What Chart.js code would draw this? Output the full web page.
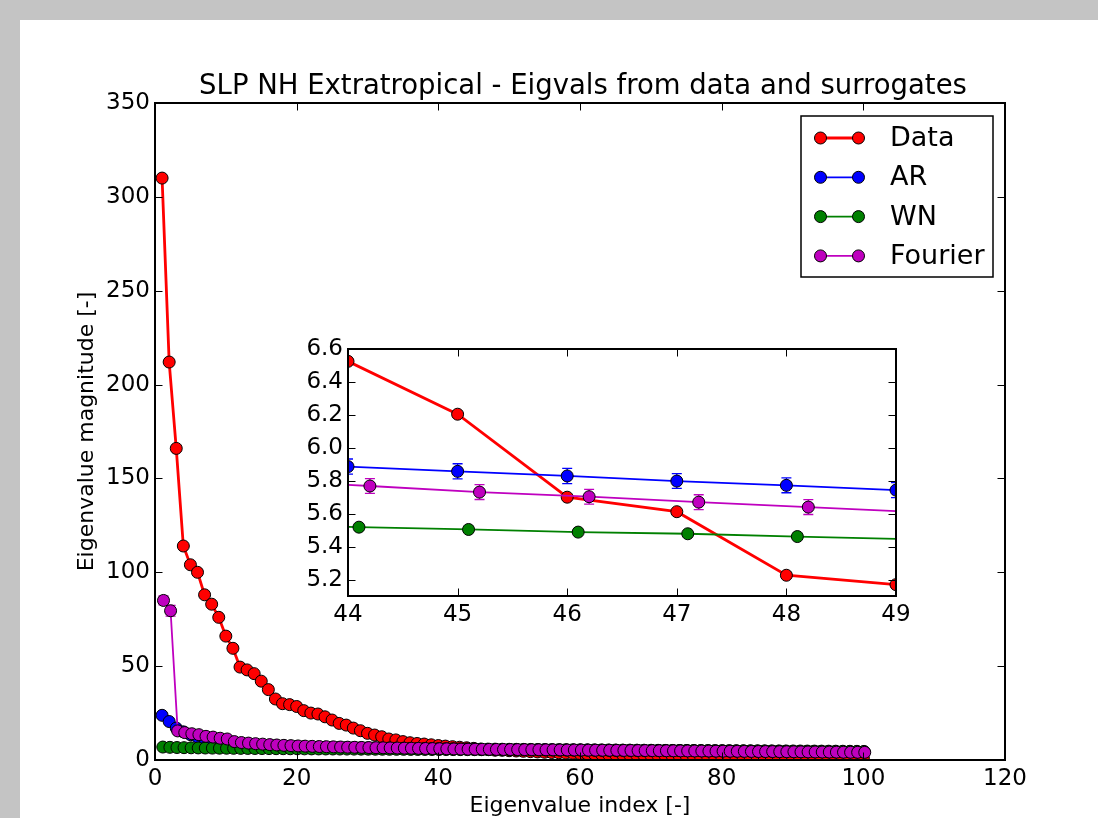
<!DOCTYPE html>
<html>
<head>
<meta charset="utf-8">
<script src="https://cdn.jsdelivr.net/npm/chart.js@4.4.0/dist/chart.umd.min.js"></script>
<style>
  html, body { margin: 0; padding: 0; background: #c4c4c4; }
  body { width: 1098px; height: 818px; position: relative; overflow: hidden; }
  #panel { position: absolute; left: 20px; top: 20px; width: 1078px; height: 798px; background: #fff; }
  #mainChart { position: absolute; left: 0; top: 0; width: 1098px; height: 818px; }
  #insetChart { position: absolute; left: 290px; top: 330px; width: 640px; height: 300px; }
</style>
</head>
<body>
<div id="panel"></div>
<canvas id="mainChart" width="1098" height="818"></canvas>
<canvas id="insetChart" width="640" height="300"></canvas>
<script>
const FONT = "'DejaVu Sans', sans-serif";

// Eigenvalue index (x)
const eigIndex = [1, 2, 3, 4, 5, 6, 7, 8, 9, 10, 11, 12, 13, 14, 15, 16, 17, 18, 19, 20,
  21, 22, 23, 24, 25, 26, 27, 28, 29, 30, 31, 32, 33, 34, 35, 36, 37, 38, 39, 40,
  41, 42, 43, 44, 45, 46, 47, 48, 49, 50, 51, 52, 53, 54, 55, 56, 57, 58, 59, 60,
  61, 62, 63, 64, 65, 66, 67, 68, 69, 70, 71, 72, 73, 74, 75, 76, 77, 78, 79, 80,
  81, 82, 83, 84, 85, 86, 87, 88, 89, 90, 91, 92, 93, 94, 95, 96, 97, 98, 99, 100];

// Eigenvalues
const dataVals = [310, 212, 166, 114, 104, 100, 88, 83, 76, 66,
  59.5, 49.5, 48, 46, 42, 37.5, 32.5, 30, 29.5, 28.5,
  26.3, 25, 24.5, 23, 21.3, 19.5, 18.6, 17, 15.6, 14.2,
  13.3, 12.4, 11.2, 10.7, 9.8, 9.2, 8.8, 8.5, 8.1, 7.7,
  7.4, 7.1, 6.8, 6.525, 6.204, 5.70, 5.612, 5.226, 5.169, 4.95,
  4.8, 4.62, 4.45, 4.3, 4.12, 3.98, 3.85, 3.7, 3.58, 3.45,
  3.35, 3.24, 3.13, 3.05, 2.95, 2.86, 2.78, 2.7, 2.62, 2.55,
  2.48, 2.41, 2.35, 2.28, 2.22, 2.16, 2.1, 2.05, 2.0, 1.95,
  1.9, 1.85, 1.8, 1.76, 1.71, 1.67, 1.63, 1.58, 1.54, 1.5,
  1.46, 1.42, 1.38, 1.34, 1.3, 1.26, 1.22, 1.17, 1.12, 1.05];

const arVals = [23.8, 20.5, 17, 15, 13.5, 12.3, 11.3, 10.6, 10, 9.5,
  9.1, 8.7, 8.4, 8.15, 7.95, 7.75, 7.6, 7.45, 7.32, 7.2,
  7.1, 7.0, 6.92, 6.84, 6.77, 6.7, 6.64, 6.58, 6.52, 6.47,
  6.42, 6.37, 6.32, 6.28, 6.23, 6.19, 6.15, 6.11, 6.07, 6.03,
  5.99, 5.95, 5.915, 5.886, 5.857, 5.829, 5.798, 5.772, 5.743, 5.71,
  5.68, 5.65, 5.62, 5.6, 5.57, 5.54, 5.51, 5.48, 5.46, 5.43,
  5.4, 5.37, 5.35, 5.32, 5.29, 5.26, 5.24, 5.21, 5.18, 5.15,
  5.13, 5.1, 5.07, 5.04, 5.01, 4.99, 4.96, 4.93, 4.9, 4.88,
  4.85, 4.82, 4.79, 4.76, 4.74, 4.71, 4.68, 4.65, 4.62, 4.59,
  4.57, 4.54, 4.51, 4.48, 4.45, 4.42, 4.39, 4.36, 4.32, 4.28];

const wnVals = [6.9, 6.75, 6.65, 6.57, 6.5, 6.44, 6.39, 6.34, 6.3, 6.26,
  6.22, 6.19, 6.16, 6.13, 6.1, 6.07, 6.04, 6.02, 5.99, 5.97,
  5.94, 5.92, 5.9, 5.88, 5.86, 5.84, 5.82, 5.8, 5.78, 5.76,
  5.74, 5.72, 5.7, 5.68, 5.67, 5.65, 5.63, 5.62, 5.6, 5.58,
  5.57, 5.55, 5.535, 5.518, 5.504, 5.488, 5.478, 5.461, 5.445, 5.43,
  5.41, 5.4, 5.38, 5.37, 5.35, 5.34, 5.32, 5.31, 5.29, 5.28,
  5.26, 5.25, 5.23, 5.22, 5.2, 5.19, 5.17, 5.16, 5.14, 5.13,
  5.11, 5.1, 5.08, 5.06, 5.05, 5.03, 5.02, 5.0, 4.98, 4.97,
  4.95, 4.93, 4.92, 4.9, 4.88, 4.87, 4.85, 4.83, 4.81, 4.8,
  4.78, 4.76, 4.74, 4.72, 4.7, 4.68, 4.66, 4.64, 4.61, 4.58];

const fourierVals = [85, 79.5, 15.5, 14.6, 14, 13.5, 12.6, 12.2, 11.6, 11.2,
  9.8, 9.3, 9.0, 8.7, 8.45, 8.2, 8.0, 7.8, 7.65, 7.5,
  7.38, 7.27, 7.17, 7.08, 7.0, 6.92, 6.84, 6.77, 6.7, 6.63,
  6.56, 6.5, 6.44, 6.38, 6.32, 6.26, 6.2, 6.14, 6.08, 6.02,
  5.96, 5.9, 5.80, 5.768, 5.731, 5.703, 5.670, 5.640, 5.61, 5.58,
  5.55, 5.52, 5.49, 5.46, 5.43, 5.4, 5.37, 5.34, 5.31, 5.28,
  5.25, 5.22, 5.19, 5.16, 5.13, 5.1, 5.07, 5.04, 5.01, 4.98,
  4.95, 4.92, 4.89, 4.86, 4.83, 4.8, 4.77, 4.74, 4.71, 4.68,
  4.65, 4.62, 4.59, 4.56, 4.53, 4.5, 4.47, 4.44, 4.41, 4.38,
  4.35, 4.32, 4.29, 4.26, 4.23, 4.2, 4.17, 4.14, 4.11, 4.08];

// error bars (only where they are visible)
const arErrIdx = [1, 2, 44, 45, 46, 47, 48, 49];
const arErr = [1.6, 0.8, 0.046, 0.046, 0.046, 0.045, 0.045, 0.045];
const fourierErrIdx = [1, 2, 44, 45, 46, 47, 48, 49];
const fourierErr = [2.4, 2.9, 0.045, 0.045, 0.045, 0.045, 0.045, 0.045];

const seriesNames = ['Data', 'AR', 'WN', 'Fourier'];
const seriesColors = ['#ff0000', '#0000ff', '#008000', '#bf00bf'];
const xShift = [0, 0, 0.1, 0.2];

const mainXTicks = [0, 20, 40, 60, 80, 100, 120];
const mainYTicks = [0, 50, 100, 150, 200, 250, 300, 350];
const insetXTicks = [44, 45, 46, 47, 48, 49];
const insetYTicks = [5.2, 5.4, 5.6, 5.8, 6.0, 6.2, 6.4, 6.6];

const MARKER_R = 6;

Chart.defaults.font.family = FONT;
Chart.defaults.font.size = 23;
Chart.defaults.color = '#000';

function makeDatasets() {
  const vals = [dataVals, arVals, wnVals, fourierVals];
  return vals.map((v, s) => ({
    label: seriesNames[s],
    data: eigIndex.map((n, i) => ({ x: n + xShift[s], y: v[i] })),
    borderColor: seriesColors[s],
    backgroundColor: seriesColors[s],
    borderWidth: s === 0 ? 2.8 : 1.8,
    pointRadius: MARKER_R,
    pointBorderWidth: 1,
    pointBorderColor: '#000',
    pointBackgroundColor: seriesColors[s],
    tension: 0,
    order: 4 - s,
    clip: 0
  }));
}

// white axes background, inward ticks on all sides, frame
const axesFrame = {
  id: 'axesFrame',
  beforeDatasetsDraw(chart) {
    const { ctx, chartArea: a } = chart;
    ctx.save();
    ctx.fillStyle = '#fff';
    ctx.fillRect(a.left, a.top, a.right - a.left, a.bottom - a.top);
    ctx.restore();
  },
  afterDatasetsDraw(chart) {
    const { ctx, chartArea: a, scales: { x, y } } = chart;
    ctx.save();
    ctx.strokeStyle = '#000';
    ctx.lineWidth = 1;
    ctx.beginPath();
    x.ticks.forEach(t => {
      const px = Math.round(x.getPixelForValue(t.value)) + 0.5;
      ctx.moveTo(px, a.bottom); ctx.lineTo(px, a.bottom - 7.5);
      ctx.moveTo(px, a.top); ctx.lineTo(px, a.top + 7.5);
    });
    y.ticks.forEach(t => {
      const py = Math.round(y.getPixelForValue(t.value)) + 0.5;
      ctx.moveTo(a.left, py); ctx.lineTo(a.left + 7.5, py);
      ctx.moveTo(a.right, py); ctx.lineTo(a.right - 7.5, py);
    });
    ctx.stroke();
    ctx.lineWidth = 2;
    ctx.strokeRect(a.left, a.top, a.right - a.left, a.bottom - a.top);
    ctx.restore();
  }
};

const errorBars = {
  id: 'errorBars',
  beforeDatasetsDraw(chart, args, opts) {
    const { ctx, chartArea: a, scales: { x, y } } = chart;
    ctx.save();
    ctx.beginPath();
    ctx.rect(a.left, a.top, a.right - a.left, a.bottom - a.top);
    ctx.clip();
    (opts.bars || []).forEach(b => {
      const ds = chart.data.datasets[b.dataset];
      ctx.strokeStyle = ds.borderColor;
      ctx.lineWidth = 1.3;
      b.idx.forEach((n, k) => {
        const p = ds.data[n - 1];
        const px = x.getPixelForValue(p.x);
        const y1 = y.getPixelForValue(p.y - b.err[k]);
        const y2 = y.getPixelForValue(p.y + b.err[k]);
        ctx.beginPath();
        ctx.moveTo(px, y1); ctx.lineTo(px, y2);
        ctx.moveTo(px - 5, y1); ctx.lineTo(px + 5, y1);
        ctx.moveTo(px - 5, y2); ctx.lineTo(px + 5, y2);
        ctx.stroke();
      });
    });
    ctx.restore();
  }
};

const plotTitle = {
  id: 'plotTitle',
  afterDraw(chart, args, opts) {
    if (!opts.text) return;
    const { ctx, chartArea: a } = chart;
    ctx.save();
    ctx.font = `27.5px ${FONT}`;
    ctx.fillStyle = '#000';
    ctx.textAlign = 'center';
    ctx.textBaseline = 'alphabetic';
    ctx.fillText(opts.text, (a.left + a.right) / 2 + 3, a.top - 9);
    ctx.restore();
  }
};

// matplotlib-like legend: line with two markers per row
const lineLegend = {
  id: 'lineLegend',
  afterDraw(chart, args, opts) {
    if (!opts.display) return;
    const { ctx, chartArea: a } = chart;
    const w = 192, h = 161;
    const left = a.right - 12 - w, top = a.top + 13;
    ctx.save();
    ctx.fillStyle = '#fff';
    ctx.fillRect(left, top, w, h);
    ctx.lineWidth = 1.5;
    ctx.strokeStyle = '#000';
    ctx.strokeRect(left, top, w, h);
    ctx.font = `27px ${FONT}`;
    ctx.textBaseline = 'middle';
    ctx.textAlign = 'left';
    chart.data.datasets.forEach((ds, i) => {
      const cy = top + 22 + i * 39.3;
      const x1 = left + 19.5, x2 = left + 57.5;
      ctx.strokeStyle = ds.borderColor;
      ctx.lineWidth = ds.borderWidth;
      ctx.beginPath(); ctx.moveTo(x1, cy); ctx.lineTo(x2, cy); ctx.stroke();
      [x1, x2].forEach(mx => {
        ctx.beginPath();
        ctx.arc(mx, cy, MARKER_R, 0, Math.PI * 2);
        ctx.fillStyle = ds.pointBackgroundColor;
        ctx.fill();
        ctx.lineWidth = 1;
        ctx.strokeStyle = '#000';
        ctx.stroke();
      });
      ctx.fillStyle = '#000';
      ctx.fillText(ds.label, left + 89, cy + 1);
    });
    ctx.restore();
  }
};

function fixedTicks(list) {
  return scale => { scale.ticks = list.map(v => ({ value: v })); };
}

// main chart
new Chart(document.getElementById('mainChart'), {
  type: 'line',
  data: { datasets: makeDatasets() },
  plugins: [axesFrame, errorBars, plotTitle, lineLegend],
  options: {
    responsive: false,
    animation: false,
    events: [],
    layout: { padding: { left: 0, top: 103, right: 93, bottom: 0 } },
    plugins: {
      legend: { display: false },
      tooltip: { enabled: false },
      plotTitle: { text: 'SLP NH Extratropical - Eigvals from data and surrogates' },
      lineLegend: { display: true },
      errorBars: { bars: [
        { dataset: 1, idx: arErrIdx, err: arErr },
        { dataset: 3, idx: fourierErrIdx, err: fourierErr }
      ] }
    },
    scales: {
      x: {
        type: 'linear', min: 0, max: 120,
        afterBuildTicks: fixedTicks(mainXTicks),
        afterFit: s => { s.height = 58; },
        grid: { display: false, drawTicks: false },
        border: { display: false },
        ticks: { padding: 5, autoSkip: false, maxRotation: 0 },
        title: { display: true, text: 'Eigenvalue index [-]', font: { size: 22 }, padding: { top: 0, bottom: -1 } }
      },
      y: {
        type: 'linear', min: 0, max: 350,
        afterBuildTicks: fixedTicks(mainYTicks),
        afterFit: s => { s.width = 155; },
        grid: { display: false, drawTicks: false },
        border: { display: false },
        ticks: { padding: 5, autoSkip: false },
        title: { display: true, text: 'Eigenvalue magnitude [-]', font: { size: 22 }, padding: { top: 74, bottom: 0 } }
      }
    }
  }
});

// inset zoom on indices 44-49
new Chart(document.getElementById('insetChart'), {
  type: 'line',
  data: { datasets: makeDatasets() },
  plugins: [axesFrame, errorBars],
  options: {
    responsive: false,
    animation: false,
    events: [],
    layout: { padding: { left: 0, top: 19, right: 34, bottom: 0 } },
    plugins: {
      legend: { display: false },
      tooltip: { enabled: false },
      errorBars: { bars: [
        { dataset: 1, idx: arErrIdx, err: arErr },
        { dataset: 3, idx: fourierErrIdx, err: fourierErr }
      ] }
    },
    scales: {
      x: {
        type: 'linear', min: 44, max: 49,
        afterBuildTicks: fixedTicks(insetXTicks),
        afterFit: s => { s.height = 34; },
        grid: { display: false, drawTicks: false },
        border: { display: false },
        ticks: { padding: 5, autoSkip: false, maxRotation: 0 }
      },
      y: {
        type: 'linear', min: 5.1, max: 6.6,
        afterBuildTicks: fixedTicks(insetYTicks),
        afterFit: s => { s.width = 58; },
        grid: { display: false, drawTicks: false },
        border: { display: false },
        ticks: { padding: 5, autoSkip: false, callback: v => v.toFixed(1) }
      }
    }
  }
});
</script>
</body>
</html>
